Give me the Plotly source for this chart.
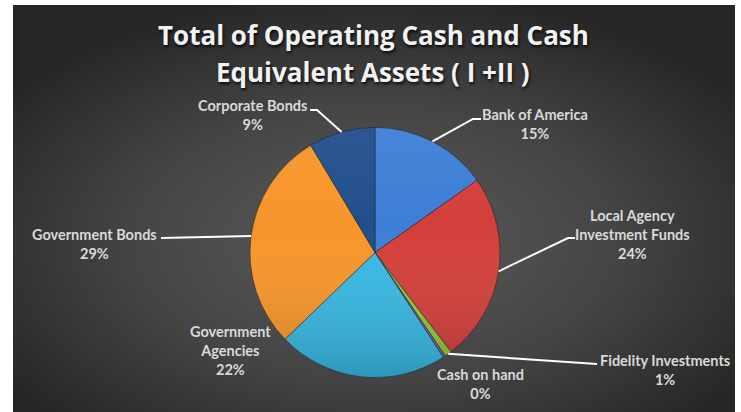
import base64
import math
import plotly.graph_objects as go

# ---------------- data ----------------
categories = ["Bank of America", "Local Agency Investment Funds", "Fidelity Investments",
              "Cash on hand", "Government Agencies", "Government Bonds", "Corporate Bonds"]
values = [15.2, 24.4, 0.9, 0.3, 22.0, 28.6, 8.6]
label_names = ["Bank of America", "Local Agency<br>Investment Funds", "Fidelity Investments",
               "Cash on hand", "Government<br>Agencies", "Government Bonds", "Corporate Bonds"]
title_lines = ["Total of Operating Cash and Cash", "Equivalent Assets ( I +II )"]

# ---------------- style / layout ----------------
colors = ["#3d7fd6", "#d33f3a", "#92c63a", "#7d5fa8", "#38b8e3", "#f7952a", "#224f8c"]
W, H = 741, 412
CX, CY, R = 375, 252.5, 125           # pie centre / radius in px
FONT = "Lato"
LABEL_COLOR = "#d9d9d9"

# label centres (px) and leader-line elbows (px), per category
label_pos = [(535, 124), (632, 234), (665, 369.5), (480, 383.5), (230, 350), (95, 243.5), (252, 115)]
leader_pts = [
    [(473, 119), (481, 119)],
    [(568, 238), (575, 238)],
    [(597, 364)],
    None,
    None,
    [(161, 238)],
    [(317, 110), (310, 110)],
]
title_y = [35, 72]


def px(x):
    return x / W


def py(y):
    return 1 - y / H


def svg_uri(svg):
    return "data:image/svg+xml;base64," + base64.b64encode(svg.encode()).decode()


# background gradient
bg_svg = (
    '<svg xmlns="http://www.w3.org/2000/svg" width="722" height="407" viewBox="0 0 722 407" '
    'preserveAspectRatio="none"><defs><radialGradient id="g" cx="0.5" cy="0.58" r="0.62">'
    '<stop offset="0" stop-color="#5c5c5c"/><stop offset="0.55" stop-color="#444444"/>'
    '<stop offset="1" stop-color="#262626"/></radialGradient></defs>'
    '<rect width="722" height="407" fill="url(#g)"/></svg>'
)
# subtle top-to-bottom shading over the pie
shade_svg = (
    '<svg xmlns="http://www.w3.org/2000/svg" width="250" height="250" viewBox="0 0 250 250">'
    '<defs><linearGradient id="s" x1="0" y1="0" x2="0" y2="1">'
    '<stop offset="0" stop-color="#ffffff" stop-opacity="0.05"/>'
    '<stop offset="0.4" stop-color="#ffffff" stop-opacity="0"/>'
    '<stop offset="1" stop-color="#000000" stop-opacity="0.18"/></linearGradient></defs>'
    '<circle cx="125" cy="125" r="125" fill="url(#s)"/></svg>'
)

fig = go.Figure()
fig.add_trace(go.Pie(
    labels=categories,
    values=values,
    sort=False,
    direction="clockwise",
    rotation=0,
    textinfo="none",
    hoverinfo="label+percent",
    marker=dict(colors=colors, line=dict(color="rgba(20,20,20,0.45)", width=1)),
    domain=dict(x=[px(CX - R), px(CX + R)], y=[py(CY + R), py(CY - R)]),
    showlegend=False,
))

total = sum(values)
annotations = []
shapes = []
cum = 0.0
for i, v in enumerate(values):
    mid = (cum + v / 2) / total * 2 * math.pi
    cum += v
    ex = CX + R * math.sin(mid)
    ey = CY - R * math.cos(mid)
    pct = int(v / total * 100 + 0.5)
    lx, ly = label_pos[i]
    annotations.append(dict(
        x=px(lx), y=py(ly), xref="paper", yref="paper",
        text=f"{label_names[i]}<br>{pct}%", showarrow=False,
        xanchor="center", yanchor="middle", align="center",
        font=dict(family=FONT, size=14.5, color=LABEL_COLOR, weight="bold"),
    ))
    if leader_pts[i]:
        pts = [(ex, ey)] + leader_pts[i]
        path = "M " + " L ".join(f"{px(a):.5f},{py(b):.5f}" for a, b in pts)
        shapes.append(dict(type="path", xref="paper", yref="paper", path=path,
                           line=dict(color="#ffffff", width=2)))

for line, ty in zip(title_lines, title_y):
    annotations.append(dict(
        x=px(373), y=py(ty), xref="paper", yref="paper", text=line, showarrow=False,
        xanchor="center", yanchor="middle", align="center",
        font=dict(family="Open Sans", size=26, color="#f2f2f2", weight="bold",
                  shadow="1px 2px 3px rgba(0,0,0,0.85)"),
    ))

fig.update_layout(
    width=W, height=H,
    margin=dict(l=0, r=0, t=0, b=0),
    paper_bgcolor="#ffffff",
    plot_bgcolor="rgba(0,0,0,0)",
    annotations=annotations,
    shapes=shapes,
    images=[
        dict(source=svg_uri(bg_svg), xref="paper", yref="paper", x=px(13), y=py(5),
             sizex=px(735) - px(13), sizey=py(5) - py(412), xanchor="left", yanchor="top",
             sizing="stretch", layer="below"),
        dict(source=svg_uri(shade_svg), xref="paper", yref="paper", x=px(CX - R), y=py(CY - R),
             sizex=px(CX + R) - px(CX - R), sizey=py(CY - R) - py(CY + R),
             xanchor="left", yanchor="top", sizing="stretch", layer="above"),
    ],
)

fig.write_html("out.html", config={"displayModeBar": False},
               post_script="document.body.style.margin='0px';")
